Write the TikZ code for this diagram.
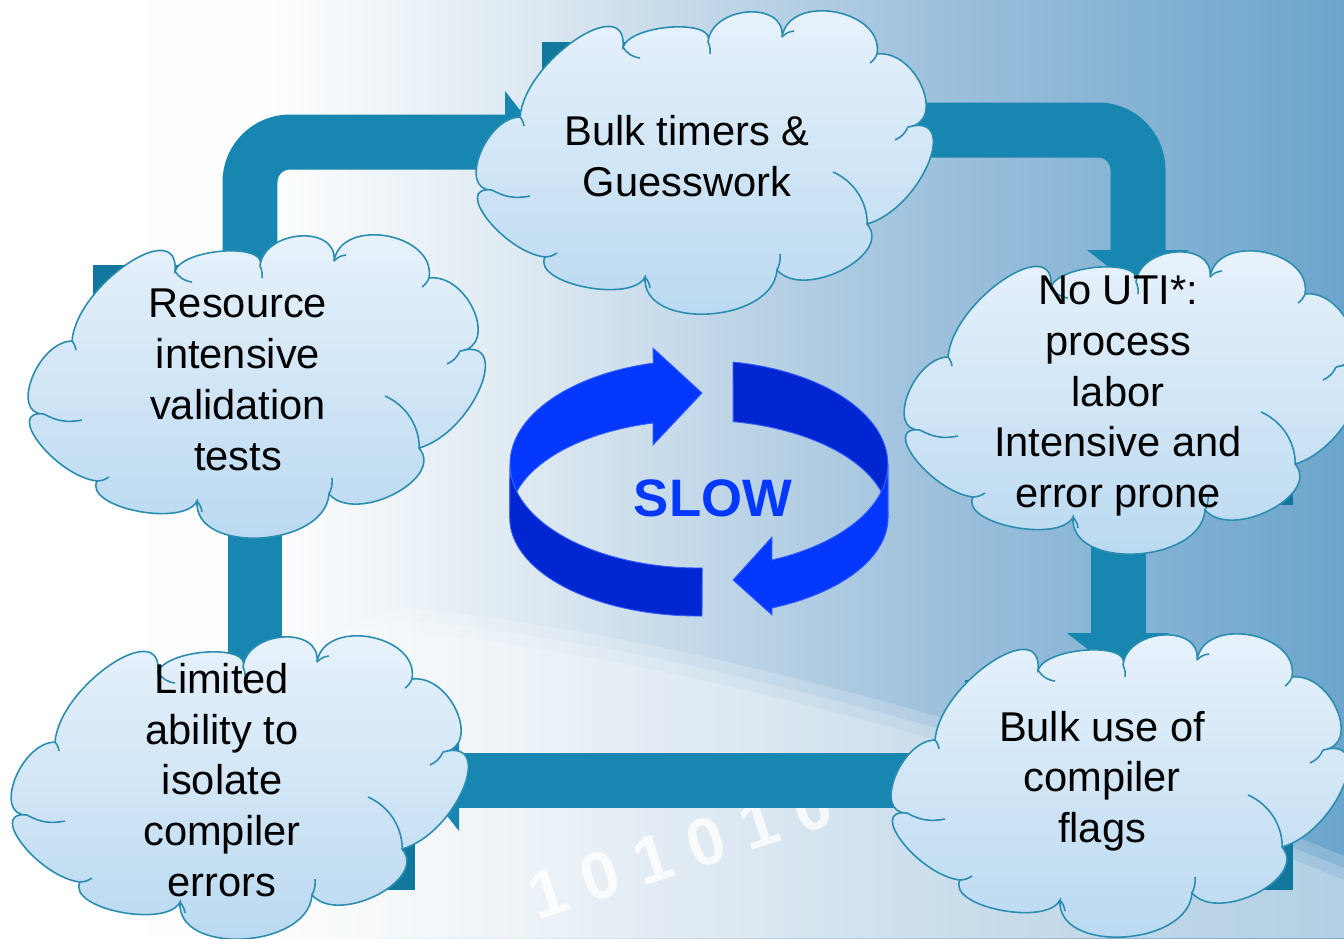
\documentclass[tikz,border=0pt]{standalone}
\usepackage{fontspec}
\setmainfont{Liberation Sans}
\usetikzlibrary{arrows.meta}

\definecolor{bandteal}{HTML}{1786B0}
\definecolor{boxteal}{HTML}{12779C}
\definecolor{cloudline}{HTML}{2A8DB0}
\definecolor{cloudtop}{HTML}{EAF3FC}
\definecolor{cloudbot}{HTML}{B8D8F0}
\definecolor{ringlight}{HTML}{0538FF}
\definecolor{ringdark}{HTML}{0026D2}
\definecolor{bgmid}{HTML}{DCE8F1}
\definecolor{bgblue}{HTML}{9DC0DC}
\definecolor{bgright}{HTML}{6CA5CC}

\pgfdeclarehorizontalshading{bgshade}{100bp}{color(0bp)=(white); color(25bp)=(white); color(35bp)=(white!96!bgmid); color(45bp)=(bgmid); color(60bp)=(bgblue); color(75bp)=(bgright); color(100bp)=(bgright)}

\tikzset{
  cloudanchor/.style={minimum width=9cm, minimum height=6.1cm, inner sep=0pt},
  cloudtext/.style={align=center, text=black, font=\fontsize{23.7}{28.9}\selectfont},
  band/.style={draw=bandteal, line width=1.1cm, rounded corners=0.8cm,
    -{Triangle[width=2cm,length=0.8cm]}},
  bits/.style={text=white, opacity=0.8, font=\bfseries\fontsize{38}{38}\selectfont, rotate=18},
  ring/.style={draw=ringlight!80!white, line width=0.5pt},
  globe/.style={white, opacity=0.2},
  % cloud drawn around its centre, in pixels
  pcloud/.pic={
    \shadedraw[draw=cloudline, line width=0.9pt, top color=cloudtop, bottom color=cloudbot]
      (-79,115) .. controls (-70.3,138.3) and (14.7,143.3) .. (6,120)
      .. controls (10,156.7) and (84,161.7) .. (80,125)
      .. controls (87.3,169.7) and (182.3,152.7) .. (175,108)
      .. controls (214.3,112.7) and (245.3,39.7) .. (206,35)
      .. controls (260,50.3) and (219,-46.7) .. (165,-62)
      .. controls (191.7,-92.7) and (101.7,-138.7) .. (75,-108)
      .. controls (71,-162) and (-61,-169) .. (-57,-115)
      .. controls (-70.3,-141.7) and (-170.3,-121.7) .. (-157,-95)
      .. controls (-197.7,-90.3) and (-250.7,-23.3) .. (-210,-28)
      .. controls (-244.7,-28.7) and (-216.7,44.3) .. (-182,45)
      .. controls (-177.3,101) and (-74.3,171) .. (-79,115) -- cycle;
    \draw[cloudline, line width=0.9pt]
      (-79,115) to[bend right=25] (-62,104)
      (6,120) to[bend left=15] (8,108)
      (80,125) to[bend left=20] (92,131)
      (175,108) to[bend left=15] (168,99)
      (206,35) to[bend left=20] (193,22)
      (131,-10) arc[start angle=66.5, end angle=1, radius=1.14cm]
      (75,-108) to[bend right=15] (78,-92)
      (-57,-115) to[bend left=15] (-52,-126)
      (-157,-95) to[bend right=15] (-145,-91)
      (-210,-28) to[bend right=20] (-172,-34)
      (-182,45) to[bend left=15] (-178,36);
  }
}

\begin{document}
\begin{tikzpicture}[x=0.02cm, y=0.02cm]
    \useasboundingbox (0,0) rectangle (1344,-938);

    % Background
    \shade[shading=bgshade] (0,0) rectangle (1344,-938);
    \foreach \d in {0,12,24}
      \fill[globe] (60+\d,-938) .. controls (100+\d,-760+\d) and (250,-640-\d) .. (400,-632+\d)
        .. controls (650,-650+\d) and (1050,-760+\d) .. (1344,-880+\d) -- (1344,-938) -- cycle;
    \node[bits] (binary) at (680,-850) {1 0 1 0 1 0};

    % Cloud positions
    \node[cloudanchor] (timers)   at (702,-162)  {};
    \node[cloudanchor] (resource) at (254,-386)  {};
    \node[cloudanchor] (nouti)    at (1130,-402) {};
    \node[cloudanchor] (flags)    at (1117,-785) {};
    \node[cloudanchor] (limited)  at (237,-787)  {};

    % Boxes behind the clouds
    \fill[boxteal] (542,-42) rectangle (862,-250);
    \fill[boxteal] (93,-265) rectangle (415,-473);
    \fill[boxteal] (1000,-300) rectangle (1293,-505);
    \fill[boxteal] (965,-680) rectangle (1293,-890);
    \fill[boxteal] (95,-680) rectangle (415,-890);

    % Loop
    \draw[band] ([shift={(-4,0)}]resource.center) |- ([shift={(-157,20)}]timers.center);
    \draw[band] ([shift={(0,32)}]timers.center) -| ([shift={(8,112)}]nouti.center);
    \draw[band] ([shift={(-12,0)}]nouti.center) -- ([shift={(1,112)}]flags.center);
    \draw[band] ([shift={(0,5)}]flags.center) -- ([shift={(182,7)}]limited.center);
    \draw[band] ([shift={(18,0)}]limited.center) -- ([shift={(1,-97)}]resource.center);

    % Clouds
    \pic at (timers.center)   {pcloud};
    \pic at (resource.center) {pcloud};
    \pic at (nouti.center)    {pcloud};
    \pic at (flags.center)    {pcloud};
    \pic at (limited.center)  {pcloud};

    % Texts
    \node[cloudtext] (timerst)   at (687,-156)  {Bulk timers \&\\Guesswork};
    \node[cloudtext] (resourcet) at (238,-380)  {Resource\\intensive\\validation\\tests};
    \node[cloudtext] (noutit)    at (1118,-396) {No UTI*:\\process\\labor\\Intensive and\\error prone};
    \node[cloudtext] (flagst)    at (1102,-781) {Bulk use of\\compiler\\flags};
    \node[cloudtext] (limitedt)  at (222,-780)  {Limited\\ability to\\isolate\\compiler\\errors};

    % Circular arrows
    \filldraw[ring, fill=ringlight] (510,-464)
      arc[start angle=180, end angle=104, x radius=3.78cm, y radius=2.08cm]
      -- (653,-348) -- (702,-393) -- (653,-445) -- (653,-423)
      arc[start angle=104, end angle=180, x radius=3.78cm, y radius=1.96cm] -- cycle;
    \filldraw[ring, fill=ringdark] (733,-362)
      arc[start angle=79.6, end angle=0, x radius=3.78cm, y radius=2.08cm]
      -- (888,-518)
      arc[start angle=0, end angle=79.6, x radius=3.78cm, y radius=1.96cm] -- cycle;
    \filldraw[ring, fill=ringdark] (510,-464)
      arc[start angle=180, end angle=271, x radius=3.78cm, y radius=2.08cm]
      -- (702,-616)
      arc[start angle=271, end angle=180, x radius=3.78cm, y radius=1.96cm] -- cycle;
    \filldraw[ring, fill=ringlight] (888,-464)
      arc[start angle=360, end angle=292.7, x radius=3.78cm, y radius=2.08cm]
      -- (772,-537) -- (733,-580) -- (772,-615) -- (772,-608)
      arc[start angle=292.7, end angle=360, x radius=3.78cm, y radius=1.96cm] -- cycle;

    \node[text=ringlight, font=\bfseries\fontsize{30}{36}\selectfont] (slow) at (713,-498) {SLOW};
\end{tikzpicture}
\end{document}
